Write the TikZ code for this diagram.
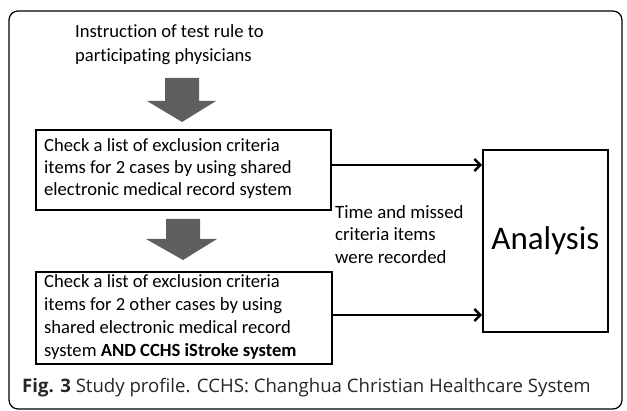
\documentclass[tikz,border=0pt]{standalone}
\usepackage{fontspec}
\setmainfont{Carlito}[Ligatures=NoCommon]
\newfontfamily\capfont{Open Sans}
\usepackage{xcolor}
\usetikzlibrary{arrows.meta}

\definecolor{blockgray}{RGB}{95,95,95}
\tikzset{
  stepbox/.style={draw, line width=1.8pt, anchor=north west, inner sep=0pt},
  boxtext/.style={anchor=west, inner sep=0pt, align=left, font=\fontsize{18.6}{22}\selectfont},
  conn/.style={line width=2.4pt, -{Straight Barb[length=6pt,width=12pt,line width=2.4pt]}},
  blockarrow/.style={fill=blockgray, draw=none}
}

\begin{document}
\begin{tikzpicture}[x=1pt,y=1pt,yscale=-1,xscale=1]
	\useasboundingbox (0,0) rectangle (627,411);
	
	%Rounded Rect frame
	\draw [line width=1.2pt, rounded corners=9pt] (9,11) rectangle (622,409);
	
	% Text Node
	\node (instr) [anchor=north west, inner sep=0pt, align=left, font=\fontsize{18.6}{24}\selectfont] at (75,24) {Instruction of test rule to\\participating physicians};
	
	%Block arrow 1
	\draw [blockarrow] (165,78) -- (199,78) -- (199,101) -- (216,101) -- (182,122) -- (147,101) -- (165,101) -- cycle;
	
	%Box 1
	\node (chk1) [stepbox, minimum width=295pt, minimum height=80pt] at (35,129) {};
	\node (txt1) [boxtext] at (44,169) {Check a list of exclusion criteria\\items for 2 cases by using shared\\electronic medical record system};
	
	%Block arrow 2
	\draw [blockarrow] (166,219) -- (200,219) -- (200,239) -- (217,239) -- (183,260) -- (146,239) -- (166,239) -- cycle;
	
	%Box 2
	\node (chk2) [stepbox, minimum width=296pt, minimum height=92pt] at (35,271) {};
	\node (txt2) [boxtext, font=\fontsize{18.6}{23}\selectfont] at (44,317) {Check a list of exclusion criteria\\items for 2 other cases by using\\shared electronic medical record\\system \textbf{AND CCHS iStroke system}};
	
	%Analysis box
	\node (ana) [stepbox, minimum width=125pt, minimum height=182pt] at (482,149) {};
	\node (anatxt) [inner sep=0pt, font=\fontsize{33}{40}\selectfont] at (ana.center) {Analysis};
	
	%Connectors
	\draw [conn] (chk1.east |- 0,165) -- (ana.west |- 0,165);
	\draw [conn] (chk2.east |- 0,315) -- (ana.west |- 0,315);
	
	% Text Node
	\node (note) [anchor=north west, inner sep=0pt, align=left, font=\fontsize{18.8}{22.5}\selectfont] at (335,205) {Time and missed\\criteria items\\were recorded};
	
	% Caption
	\node (cap) [anchor=base west, inner sep=0pt, font=\capfont\fontsize{18.6}{22}\selectfont, text=black!85] at (22,393) {\textbf{Fig. 3} Study profile. CCHS: Changhua Christian Healthcare System};
	
\end{tikzpicture}
\end{document}
